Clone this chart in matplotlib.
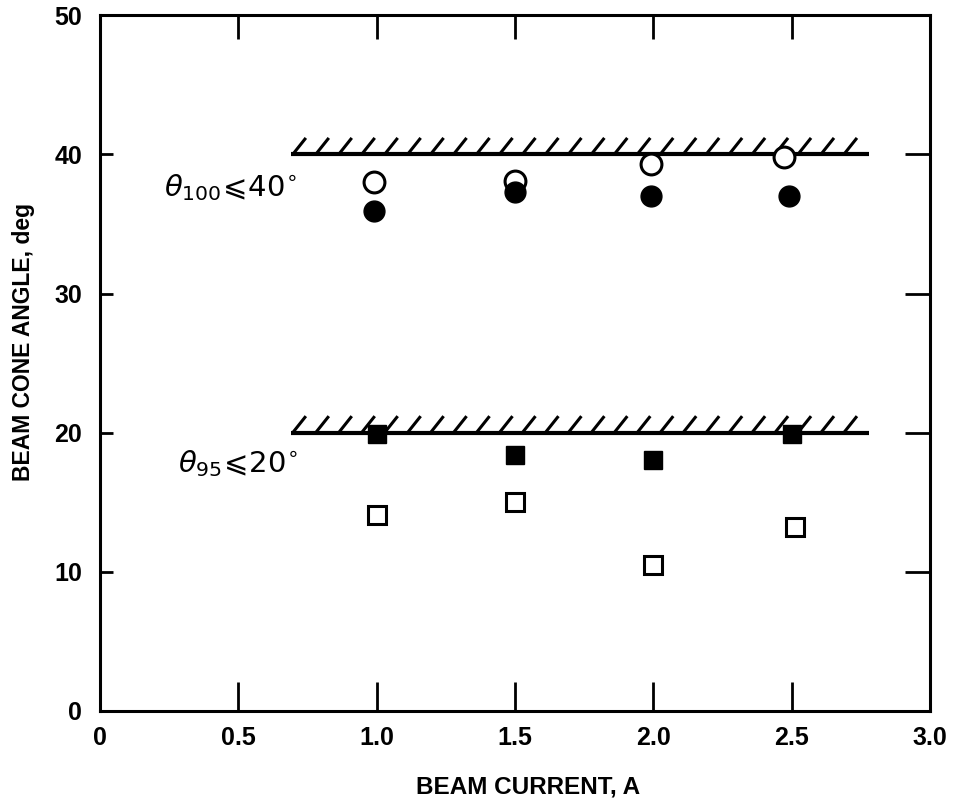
import numpy as np
import matplotlib.pyplot as plt

plt.rcParams['font.family'] = ['Liberation Sans', 'DejaVu Sans']
plt.rcParams['mathtext.fontset'] = 'dejavusans'

# Dữ liệu
theta100_open = [38.0, 38.1, 39.3, 39.8]
theta100_filled = [35.9, 37.3, 37.0, 37.0]
theta95_filled = [19.9, 18.4, 18.0, 19.9]
theta95_open = [14.1, 15.0, 10.5, 13.2]
x_open_c = [0.99, 1.5, 1.99, 2.47]
x_fill_c = [0.99, 1.5, 1.99, 2.49]
x_fill_s = [1.0, 1.5, 2.0, 2.5]
x_open_s = [1.0, 1.5, 2.0, 2.51]
limits = [40, 20]
limit_x = (0.69, 2.78)

xticks = [0, 0.5, 1.0, 1.5, 2.0, 2.5, 3.0]
xticklabels = ['0', '0.5', '1.0', '1.5', '2.0', '2.5', '3.0']
yticks = [0, 10, 20, 30, 40, 50]

fig = plt.figure(figsize=(9.54, 8.06), dpi=100)
ax = fig.add_axes([0.105, 0.118, 0.870, 0.863])

# Đường giới hạn có gạch chéo
for lim in limits:
    ax.plot(limit_x, [lim, lim], color='black', lw=3, solid_capstyle='butt', zorder=2)
    for xs in np.arange(limit_x[0] + 0.01, limit_x[1] - 0.02, 0.083):
        ax.plot([xs, xs + 0.04], [lim + 0.1, lim + 1.1], color='black', lw=2.2, zorder=2)

ax.plot(x_open_c, theta100_open, 'o', ms=15, mfc='white', mec='black', mew=2.2, zorder=3)
ax.plot(x_fill_c, theta100_filled, 'o', ms=15, mfc='black', mec='black', zorder=3)
ax.plot(x_fill_s, theta95_filled, 's', ms=13.5, mfc='black', mec='black', zorder=3)
ax.plot(x_open_s, theta95_open, 's', ms=13.5, mfc='white', mec='black', mew=2.2, zorder=3)

ax.text(0.23, 37.6, r"$\theta_{\mathsf{100}}\!\leqslant\!\mathsf{40}^{\circ}$", fontsize=21, va='center', ha='left')
ax.text(0.28, 17.8, r"$\theta_{\mathsf{95}}\!\leqslant\!\mathsf{20}^{\circ}$", fontsize=21, va='center', ha='left')

ax.set_xlim(0, 3.0)
ax.set_ylim(0, 50)
ax.set_xticks(xticks)
ax.set_xticklabels(xticklabels)
ax.set_yticks(yticks)
for s in ax.spines.values():
    s.set_linewidth(2.2)
ax.tick_params(axis='x', direction='in', length=21, width=2, labelsize=18, pad=11)
ax.tick_params(axis='y', direction='in', length=9, width=2, labelsize=18, pad=13)
for lab in ax.get_xticklabels() + ax.get_yticklabels():
    lab.set_fontweight('bold')

top = ax.secondary_xaxis('top')
top.set_xticks(xticks[1:-1])
top.tick_params(direction='in', length=17, width=2, labeltop=False)
right = ax.secondary_yaxis('right')
right.set_yticks(yticks[1:-1])
right.tick_params(direction='in', length=18, width=2, labelright=False)

ax.set_xlabel("BEAM CURRENT, A", fontsize=17.5, fontweight='bold')
ax.xaxis.set_label_coords(0.516, -0.093)
ax.set_ylabel("BEAM CONE ANGLE, deg", fontsize=16.5, fontweight='bold')
ax.yaxis.set_label_coords(-0.078, 0.53)

fig.savefig('out.png', dpi=100)
